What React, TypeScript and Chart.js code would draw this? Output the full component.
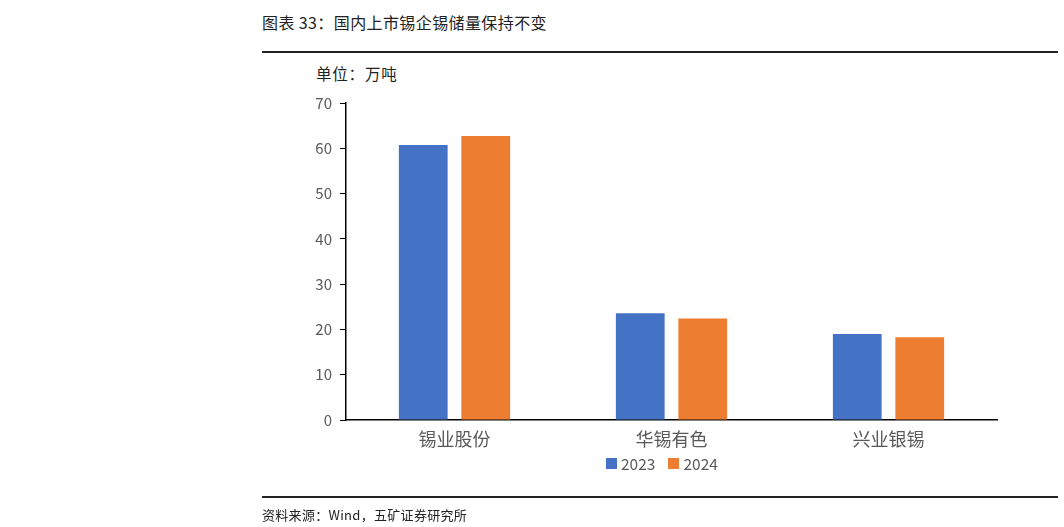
import React, { useEffect, useRef } from "react";
import { Chart, registerables } from "chart.js";

Chart.register(...registerables);

const categories = ["锡业股份", "华锡有色", "兴业银锡"];
const series2023 = [60.7, 23.6, 19.0];
const series2024 = [62.7, 22.4, 18.3];
const seriesLabels = ["2023", "2024"];
const yTicks = [0, 10, 20, 30, 40, 50, 60, 70];

const BLUE = "#4472C4";
const ORANGE = "#ED7D31";
const FONT = "'Noto Sans CJK SC', 'Noto Sans', sans-serif";

export default function App() {
  const ref = useRef<HTMLCanvasElement | null>(null);

  useEffect(() => {
    if (!ref.current) return;
    const chart = new Chart(ref.current, {
      type: "bar",
      data: {
        labels: categories,
        datasets: [
          { label: seriesLabels[0], data: series2023, backgroundColor: BLUE, categoryPercentage: 0.576, barPercentage: 0.78 },
          { label: seriesLabels[1], data: series2024, backgroundColor: ORANGE, categoryPercentage: 0.576, barPercentage: 0.78 },
        ],
      },
      options: {
        animation: false,
        responsive: false,
        maintainAspectRatio: false,
        layout: { padding: { left: 0, right: 67, top: 103, bottom: 0 } },
        plugins: { legend: { display: false }, tooltip: { enabled: false } },
        scales: {
          x: {
            grid: { display: false, drawTicks: false },
            border: { display: true, color: "#000", width: 1.5 },
            ticks: { color: "#595959", font: { family: FONT, size: 18 }, padding: 8 },
            afterFit: (s: any) => { s.height = 107; },
          },
          y: {
            min: 0,
            max: 70,
            afterBuildTicks: (s: any) => { s.ticks = yTicks.map((v) => ({ value: v })); },
            grid: { drawOnChartArea: false, drawTicks: true, tickLength: 6, color: "#000" },
            border: { display: true, color: "#000", width: 1.5 },
            ticks: { color: "#595959", font: { family: FONT, size: 15 }, padding: 8 },
            afterFit: (s: any) => { s.width = 346; },
          },
        },
      },
    });
    return () => chart.destroy();
  }, []);

  const abs = (style: React.CSSProperties): React.CSSProperties => ({ position: "absolute", ...style });

  return (
    <div style={{ position: "absolute", left: 0, top: 0, width: 1064, height: 527, background: "#fff", fontFamily: FONT }}>
      <div style={abs({ left: 262, top: 12, fontSize: 16, letterSpacing: 0.4, color: "#222", whiteSpace: "nowrap", lineHeight: "20px" })}>
        图表 33：国内上市锡企锡储量保持不变
      </div>
      <div style={abs({ left: 262, top: 51, width: 796, height: 2, background: "#222" })} />
      <div style={abs({ left: 316, top: 63, fontSize: 15.5, letterSpacing: 0.8, color: "#222", whiteSpace: "nowrap", lineHeight: "20px" })}>
        单位：万吨
      </div>
      <canvas ref={ref} width={1064} height={527} style={abs({ left: 0, top: 0, width: 1064, height: 527 })} />
      <div style={abs({ left: 606, top: 453, fontSize: 15.5, color: "#595959", whiteSpace: "nowrap", lineHeight: "20px", display: "flex", alignItems: "center" })}>
        <span style={{ display: "inline-block", width: 11, height: 11, background: BLUE, marginRight: 4 }} />
        <span>{seriesLabels[0]}</span>
        <span style={{ display: "inline-block", width: 11, height: 11, background: ORANGE, marginLeft: 13, marginRight: 4 }} />
        <span>{seriesLabels[1]}</span>
      </div>
      <div style={abs({ left: 262, top: 496, width: 796, height: 2, background: "#222" })} />
      <div style={abs({ left: 262, top: 506, fontSize: 13, letterSpacing: 0.3, color: "#222", whiteSpace: "nowrap", lineHeight: "18px" })}>
        资料来源：Wind，五矿证券研究所
      </div>
    </div>
  );
}
